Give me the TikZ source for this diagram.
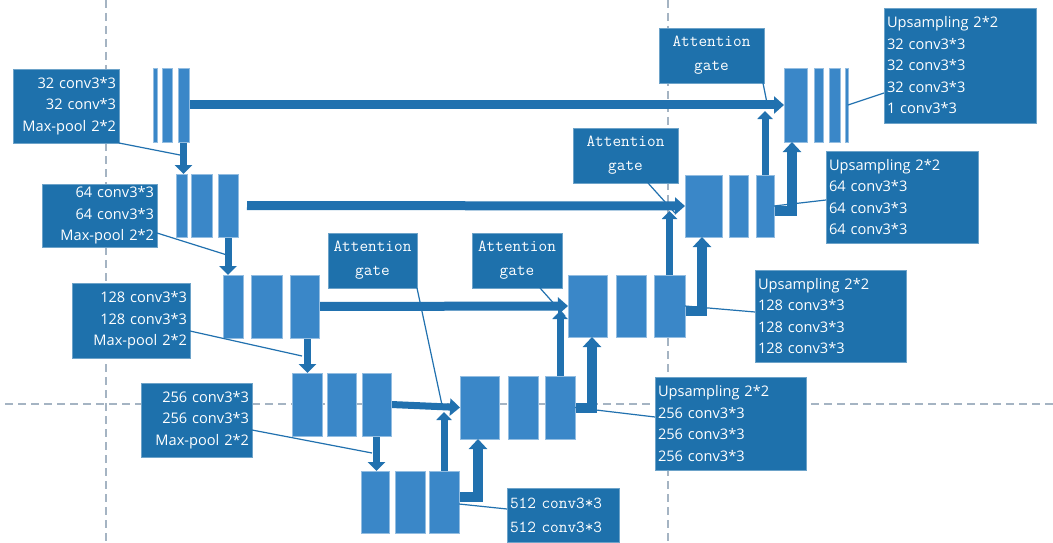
\documentclass[tikz,border=0pt]{standalone}
\usepackage{fontspec}
\setmainfont{Open Sans}
\usetikzlibrary{arrows.meta,calc}
\definecolor{boxblue}{RGB}{30,113,172}
\definecolor{barblue}{RGB}{58,135,200}
\definecolor{arrowblue}{RGB}{33,113,175}
\definecolor{guide}{RGB}{165,180,195}
\newcommand\layerbar[5]{\node[bar, minimum width=#4pt, minimum height=#5pt] (#1) at (#2,#3) {};}
\begin{document}
\begin{tikzpicture}[x=1pt,y=-1pt,
  bar/.style={draw=barblue!55!white, line width=0.6pt, fill=barblue, inner sep=0pt, outer sep=0pt, anchor=north west},
  infobox/.style={draw=boxblue!65!white, line width=0.6pt, fill=boxblue, text=white,
    inner xsep=3pt, inner ysep=0pt, outer sep=0pt, anchor=north west,
    font=\fontsize{14.6}{21.5}\selectfont},
  monobox/.style={infobox, font=\ttfamily\fontsize{16.8}{24}\selectfont},
  guideline/.style={draw=guide, line width=1.2pt, dash pattern=on 8pt off 5pt},
  skiparrow/.style={draw=arrowblue, line width=9pt, -{Triangle[width=17pt,length=10pt]}},
  poolarrow/.style={draw=arrowblue, line width=7pt, -{Triangle[width=17pt,length=9pt]}},
  gatearrow/.style={draw=arrowblue, line width=7pt, -{Triangle[width=15pt,length=8pt]}},
  uparrow/.style={draw=arrowblue, line width=10pt, line join=miter, -{Triangle[width=18pt,length=10pt]}},
  leader/.style={draw=arrowblue, line width=1.2pt}
]
\useasboundingbox (0,0) rectangle (1053,543);
\fill[white] (0,0) rectangle (1053,543);

% guide lines
\draw[guideline] (106,0) -- (106,543);
\draw[guideline] (668,0) -- (668,543);
\draw[guideline] (5,404) -- (1053,404);

% encoder bars
\layerbar{e1a}{153}{68}{4}{74}
\layerbar{e1b}{162}{68}{10}{74}
\layerbar{e1c}{178}{68}{11}{74}
\layerbar{e2a}{176}{174}{11}{63}
\layerbar{e2b}{191}{174}{21}{63}
\layerbar{e2c}{218}{174}{20}{63}
\layerbar{e3a}{223}{275}{20}{63}
\layerbar{e3b}{251}{275}{31}{63}
\layerbar{e3c}{290}{275}{29}{63}
\layerbar{e4a}{292}{373}{30}{63}
\layerbar{e4b}{327}{373}{29}{63}
\layerbar{e4c}{362}{373}{29}{63}
\layerbar{e5a}{361}{471}{28}{62}
\layerbar{e5b}{395}{471}{30}{62}
\layerbar{e5c}{429}{471}{30}{62}
% decoder bars
\layerbar{d4a}{460}{376}{39}{63}
\layerbar{d4b}{508}{376}{30}{63}
\layerbar{d4c}{545}{376}{30}{63}
\layerbar{d3a}{568}{275}{39}{62}
\layerbar{d3b}{616}{275}{30}{62}
\layerbar{d3c}{654}{275}{31}{62}
\layerbar{d2a}{685}{175}{37}{62}
\layerbar{d2b}{729}{175}{19}{62}
\layerbar{d2c}{756}{175}{18}{62}
\layerbar{d1a}{784}{68}{23}{74}
\layerbar{d1b}{814}{68}{9}{74}
\layerbar{d1c}{829}{68}{11}{74}
\layerbar{d1d}{845}{68}{3}{74}

% gate meeting points
\coordinate (g4) at (444,412);
\coordinate (g3) at (560,311);
\coordinate (g2) at (669.5,211);
\coordinate (g1) at (765,111);

% pooling arrows
\draw[poolarrow] (e1c.south) -- (e1c.south |- e2a.north);
\draw[poolarrow] (e2c.south) -- (e2c.south |- e3a.north);
\draw[poolarrow] ([xshift=3pt]e3c.south) -- ([xshift=3pt]e3c.south |- e4a.north);
\draw[poolarrow] (e4c.south) -- (e4c.south |- e5a.north);

% skip connections
\draw[skiparrow] (e1c.east) -- (d1a.west);
\draw[skiparrow] ([xshift=9pt]e2c.east) -- (d2a.west);
\draw[skiparrow] (e3c.east) -- (d3a.west);
\draw[skiparrow, line width=7pt] (e4c.east) -- (d4a.west);

% gating signals
\draw[gatearrow] (e5c.north) -- (g4);
\draw[gatearrow] (d4c.north) -- (g3);
\draw[gatearrow] (d3c.north) -- (g2);
\draw[gatearrow] (d2c.north) -- (g1);

% upsampling paths
\draw[uparrow] ([yshift=5pt]e5c.east) -| ([xshift=-1.5pt]d4a.south);
\draw[uparrow] (d4c.east) -| ([xshift=4.5pt]d3a.south);
\draw[uparrow] ([yshift=-5pt]d3c.east) -| ([xshift=-1.5pt]d2a.south);
\draw[uparrow] ([yshift=-5pt]d2c.east) -| ([xshift=-3.5pt]d1a.south);

% redraw bars over arrow shafts
\foreach \b in {e1c,e2c,e3c,e4c,e5c,d4c,d3c,d2c}{
  \fill[barblue] (\b.north west) rectangle (\b.south east);
  \draw[barblue!55!white, line width=0.6pt] (\b.north west) rectangle (\b.south east);
}

% encoder description boxes
\node[infobox, minimum width=106pt, minimum height=74pt, text width=100pt, align=right] (b1) at (13,69)
  {32 conv3*3\\32 conv*3\\Max-pool 2*2};
\node[infobox, minimum width=115pt, minimum height=63pt, text width=109pt, align=right] (b2) at (42,184)
  {64 conv3*3\\64 conv3*3\\Max-pool 2*2};
\node[infobox, minimum width=118pt, minimum height=75pt, text width=112pt, align=right] (b3) at (72,283)
  {128 conv3*3\\128 conv3*3\\Max-pool 2*2};
\node[infobox, minimum width=111pt, minimum height=74pt, text width=105pt, align=right] (b4) at (141,383)
  {256 conv3*3\\256 conv3*3\\Max-pool 2*2};
\node[monobox, minimum width=112pt, minimum height=54pt, text width=106pt, align=left] (b5) at (507,488)
  {512 conv3*3\\512 conv3*3};

% attention gate boxes
\node[monobox, minimum width=105pt, minimum height=55pt, text width=99pt, align=center] (ag1) at (659,28) {Attention\\gate};
\node[monobox, minimum width=105pt, minimum height=55pt, text width=99pt, align=center] (ag2) at (573,128) {Attention\\gate};
\node[monobox, minimum width=89pt, minimum height=55pt, text width=83pt, align=center] (ag3) at (328,233) {Attention\\gate};
\node[monobox, minimum width=90pt, minimum height=55pt, text width=84pt, align=center] (ag4) at (472,233) {Attention\\gate};

% decoder description boxes
\node[infobox, minimum width=152pt, minimum height=115pt, text width=146pt, align=left] (u1) at (884,8)
  {Upsampling 2*2\\32 conv3*3\\32 conv3*3\\32 conv3*3\\1 conv3*3};
\node[infobox, minimum width=152pt, minimum height=92pt, text width=146pt, align=left] (u2) at (826,151)
  {Upsampling 2*2\\64 conv3*3\\64 conv3*3\\64 conv3*3};
\node[infobox, minimum width=151pt, minimum height=92pt, text width=145pt, align=left] (u3) at (755,270)
  {Upsampling 2*2\\128 conv3*3\\128 conv3*3\\128 conv3*3};
\node[infobox, minimum width=151pt, minimum height=93pt, text width=145pt, align=left] (u4) at (655,377)
  {Upsampling 2*2\\256 conv3*3\\256 conv3*3\\256 conv3*3};

% leader lines
\coordinate (p1) at (180,155);
\coordinate (p2) at (227,255);
\coordinate (p3) at (302,356);
\coordinate (p4) at (372,453);
\coordinate (a1) at (768,108);
\coordinate (a2) at (675,213);
\coordinate (a3) at (442,405);
\coordinate (a4) at (565,316);
\draw[leader] (b1.south east) -- (p1);
\draw[leader] ([yshift=14pt]b2.south east) -- (p2);
\draw[leader] ([yshift=27pt]b3.south east) -- (p3);
\draw[leader] ([yshift=27pt]b4.south east) -- (p4);
\draw[leader] ([yshift=-2pt]e5c.east) -- ([yshift=6pt]b5.west);
\draw[leader] ([xshift=-1pt]ag1.south east) -- (a1);
\draw[leader] ([xshift=-30pt]ag2.south east) -- (a2);
\draw[leader] (ag3.south east) -- (a3);
\draw[leader] ([xshift=-22pt]ag4.south east) -- (a4);
\draw[leader] (d1d.east) -- ([yshift=-27.5pt]u1.west);
\draw[leader] (d2c.east) -- ([yshift=-3pt]u2.west);
\draw[leader] (d3c.east) -- ([yshift=4pt]u3.west);
\draw[leader] (d4c.east) -- ([yshift=6.5pt]u4.west);
\end{tikzpicture}
\end{document}
